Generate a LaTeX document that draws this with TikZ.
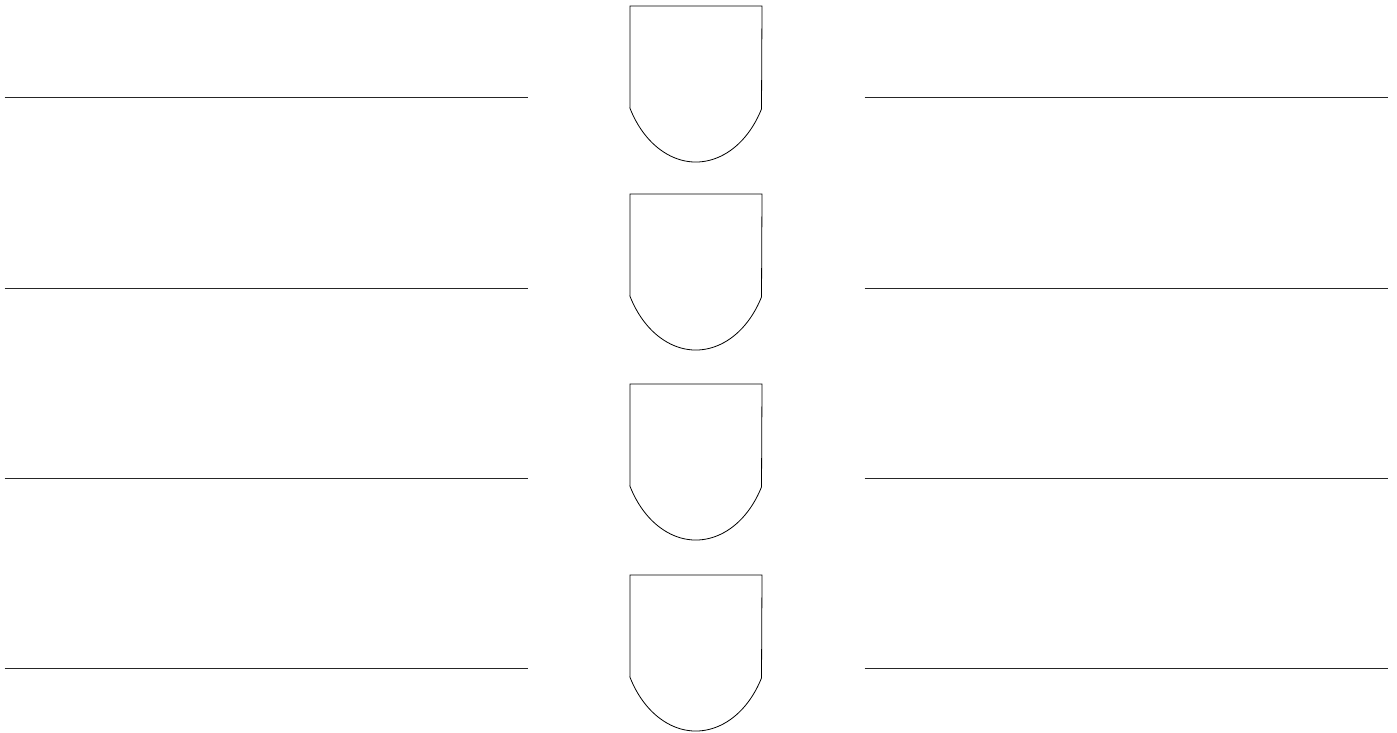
\documentclass[tikz,border=0pt]{standalone}
\begin{document}
\begin{tikzpicture}[x=1pt,y=1pt,
  rule/.style={draw=black!85,line width=1.1pt},
  shield/.style={draw=black,line width=0.8pt,line join=miter}]
\useasboundingbox (0,0) rectangle (1397,-733);
\foreach \i/\ly/\ty in {1/97.7/6, 2/288.3/194, 3/478.3/384, 4/668.3/575}{
  \coordinate (L\i a) at (4.5,-\ly);
  \coordinate (L\i b) at (528,-\ly);
  \coordinate (R\i a) at (864.5,-\ly);
  \coordinate (R\i b) at (1388,-\ly);
  \draw[rule] (L\i a) -- (L\i b);
  \draw[rule] (R\i a) -- (R\i b);
  \draw[shield] (630,-\ty-102) -- (630,-\ty) -- (762,-\ty) -- (761.5,-\ty-103)
     arc[start angle=-28.7, end angle=-151.93, x radius=74.8, y radius=102] -- cycle;
}
\end{tikzpicture}
\end{document}
